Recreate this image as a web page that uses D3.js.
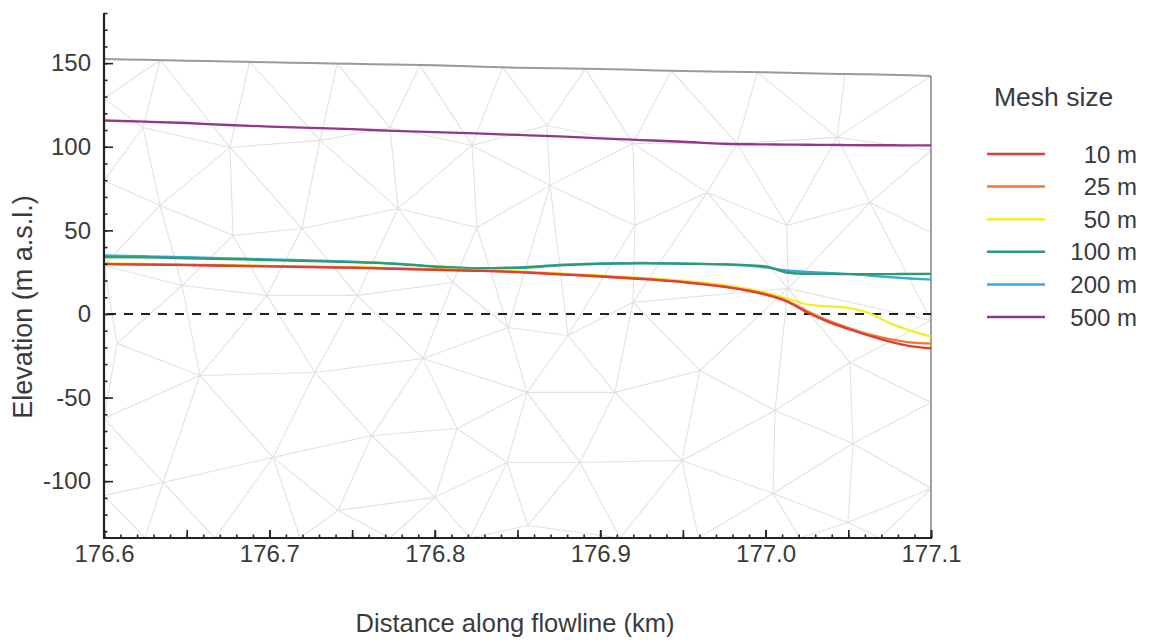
<!DOCTYPE html>
<html><head><meta charset="utf-8">
<script src="https://cdn.jsdelivr.net/npm/d3@7"></script>
<style>
body{margin:0;background:#fff}
svg{display:block}
text{font-family:"Liberation Sans",Arial,Helvetica,sans-serif;fill:#3a3a3a}
</style>
</head><body>
<svg id="chart" width="1152" height="644"></svg>
<script>
// ---------- data ----------
const distanceKm = [176.6,176.625,176.65,176.675,176.7,176.725,176.75,176.775,176.8,176.825,176.85,176.875,176.9,176.925,176.95,176.975,177.0,177.0125,177.025,177.0375,177.05,177.0625,177.075,177.0875,177.1];
const surfaceElev = [152.5,152.0,151.5,151.0,150.5,150.1,149.6,149.2,148.7,148.0,147.3,146.9,146.5,145.9,145.3,144.9,144.5,144.2,144.0,143.7,143.5,143.3,143.0,142.7,142.3];
const mesh10m  = [29.8,29.5,29.2,28.8,28.4,28.0,27.6,27.0,26.4,25.8,25.0,23.7,22.4,20.9,19.0,16.2,11.5,7.6,1.0,-4.6,-9.0,-13.0,-16.5,-19.2,-20.5];
const mesh25m  = [30.0,29.7,29.4,29.0,28.6,28.2,27.8,27.2,26.6,26.0,25.2,23.9,22.6,21.1,19.2,16.5,11.8,8.0,1.8,-3.8,-8.3,-12.2,-15.0,-17.0,-17.8];
const mesh50m  = [30.2,29.9,29.6,29.2,28.8,28.4,28.0,27.4,26.8,26.2,25.5,24.3,23.0,21.6,19.8,17.3,12.8,9.3,5.8,4.6,3.6,0.5,-5.5,-10.0,-13.5];
const mesh100m = [34.0,33.8,33.3,32.8,32.2,31.6,31.0,30.0,28.3,27.3,27.6,29.0,30.0,30.2,30.0,29.7,28.5,24.8,24.0,24.0,23.8,23.8,23.8,24.0,24.0];
const mesh200m = [35.0,34.5,34.0,33.3,32.6,32.0,31.3,30.3,28.5,27.3,27.8,29.3,30.3,30.5,30.2,29.6,27.8,26.0,25.2,24.5,24.0,23.0,22.0,21.2,20.6];
const mesh500m = [115.7,115.0,114.2,113.0,112.1,111.3,110.5,109.5,108.8,108.0,107.1,106.2,105.0,104.0,103.0,101.8,101.4,101.3,101.2,101.1,101.0,100.9,100.9,100.8,100.8];

const seriesNames  = ["10 m","25 m","50 m","100 m","200 m","500 m"];
const seriesValues = [mesh10m, mesh25m, mesh50m, mesh100m, mesh200m, mesh500m];
const seriesColors = ["#dc3f38","#f07a2e","#f4ec2c","#2f9a6c","#37a9dd","#93378a"];
const legendTitle = "Mesh size";

const xTickValues = [176.6,176.7,176.8,176.9,177.0,177.1];
const xTickLabels = ["176.6","176.7","176.8","176.9","177.0","177.1"];
const yTickValues = [-100,-50,0,50,100,150];
const yTickLabels = ["-100","-50","0","50","100","150"];
const xTitle = "Distance along flowline (km)";
const yTitle = "Elevation (m a.s.l.)";

// finite-element mesh nodes [km, elevation]
const meshNodes = [
  [176.6,152.5],[176.634,151.9],[176.688,150.8],[176.741,149.7],[176.791,148.7],[176.841,147.6],
  [176.891,146.6],[176.943,145.6],[176.995,144.5],[177.048,143.4],[177.1,142.3],
  [176.6,128.9],[176.6,79.8],[176.6,29],[176.6,-62.5],[176.6,-108.6],[176.6,-134],
  [177.1,97.8],[177.1,48.7],[177.1,-3.9],[177.1,-52.9],[177.1,-104.4],[177.1,-134],
  [176.6248,-134],[176.6671,-134],[176.7185,-134],[176.7729,-134],[176.8213,-134],
  [176.912,-134],[176.9594,-134],[177.0208,-134],[177.0692,-134],
  [176.6236,111.5],[176.6762,99.6],[176.7306,103.8],[176.7729,111.5],[176.8225,100.8],
  [176.6339,64.9],[176.678,47.0],[176.7197,51.1],[176.7778,63.1],[176.8255,51.7],
  [176.6472,17.0],[176.6985,11.1],[176.753,11.1],[176.811,18.8],
  [176.8678,112.7],[176.9198,102.0],[176.9827,102.0],[177.0432,105.6],
  [176.8697,76.9],[176.921,52.9],[176.9646,72.7],[177.0129,52.9],[177.0631,66.7],
  [176.6079,-17.6],[176.658,-36.8],[176.7276,-35.0],[176.7929,-26.6],[176.8443,-8.1],
  [176.7022,-85.8],[176.762,-72.7],[176.8134,-68.5],[176.6357,-100.8],[176.8437,-88.8],
  [176.7415,-117.5],[176.8001,-109.7],[176.8805,-12.9],[176.9198,6.9],
  [176.8557,-46.9],[176.9089,-46.9],[176.9603,-33.8],[177.0057,-57.7],[177.051,-29.0],
  [176.8878,-88.8],[176.9495,-87.6],[177.0528,-77.5],[177.0045,-107.4],[177.0498,-124.7],
  [176.8563,-126.5],[177.0135,15.3]
];

// ---------- drawing ----------
const svg = d3.select("#chart");
const x = d3.scaleLinear().domain([176.6, 177.1]).range([104, 931]);
const y = d3.scaleLinear().domain([-134, 180]).range([538, 13]);

// mesh background clipped to ice body
const clipPts = distanceKm.map((d,i)=>[x(d), y(surfaceElev[i])])
  .concat([[x(177.1), y(-134)], [x(176.6), y(-134)]]);
svg.append("clipPath").attr("id","iceclip")
  .append("path").attr("d", "M" + clipPts.map(p=>p.join(",")).join("L") + "Z");

const delaunay = d3.Delaunay.from(meshNodes, d=>x(d[0]), d=>y(d[1]));
svg.append("path")
  .attr("d", delaunay.render())
  .attr("clip-path","url(#iceclip)")
  .attr("fill","none").attr("stroke","#e2e2e2").attr("stroke-width",1.1);

// surface line and right boundary
const lineGen = d3.line().x((d,i)=>x(distanceKm[i])).y(d=>y(d)).curve(d3.curveMonotoneX);
svg.append("path").attr("d", lineGen(surfaceElev))
  .attr("fill","none").attr("stroke","#9a9a9a").attr("stroke-width",2);
svg.append("line")
  .attr("x1", x(177.1)).attr("x2", x(177.1))
  .attr("y1", y(surfaceElev[surfaceElev.length-1])).attr("y2", y(-134))
  .attr("stroke","#8c8c8c").attr("stroke-width",1.6);

// zero (sea level) dashed line
svg.append("line")
  .attr("x1", x(176.6)+3).attr("x2", x(177.1))
  .attr("y1", y(0)).attr("y2", y(0))
  .attr("stroke","#222").attr("stroke-width",2).attr("stroke-dasharray","9,8");

// series lines (500 m drawn first, 10 m last)
for (let s = seriesValues.length - 1; s >= 0; s--) {
  svg.append("path").attr("d", lineGen(seriesValues[s]))
    .attr("fill","none").attr("stroke", seriesColors[s])
    .attr("stroke-width", 2.3).attr("stroke-linejoin","round");
}

// axes
function styleAxis(g){
  g.select(".domain").remove();
  g.selectAll(".tick line").attr("stroke","#222").attr("stroke-width",1.6);
  g.selectAll("text").attr("fill","#3a3a3a").style("font-size","24px")
    .style("font-family",'"Liberation Sans",Arial,sans-serif');
}
// y minor
svg.append("g").attr("transform","translate(104,0)")
  .call(d3.axisLeft(y).tickValues(d3.range(-130,181,10)).tickSize(-3.5).tickFormat(""))
  .call(styleAxis);
// y major
svg.append("g").attr("transform","translate(104,0)")
  .call(d3.axisLeft(y).tickValues(yTickValues).tickSize(-9).tickPadding(13)
        .tickFormat((d,i)=>yTickLabels[i]))
  .call(styleAxis);
// x minor
svg.append("g").attr("transform","translate(0,538)")
  .call(d3.axisBottom(x).tickValues(d3.range(0,51).map(i=>176.6+i*0.01)).tickSize(-3.5).tickFormat(""))
  .call(styleAxis);
// x medium
svg.append("g").attr("transform","translate(0,538)")
  .call(d3.axisBottom(x).tickValues(d3.range(0,11).map(i=>176.6+i*0.05)).tickSize(-8).tickFormat(""))
  .call(styleAxis);
// x labelled
svg.append("g").attr("transform","translate(0,538)")
  .call(d3.axisBottom(x).tickValues(xTickValues).tickSize(-8).tickPadding(7)
        .tickFormat((d,i)=>xTickLabels[i]))
  .call(styleAxis);

// axis lines
svg.append("line").attr("x1",104).attr("x2",104).attr("y1",y(180)).attr("y2",y(-134)+1)
  .attr("stroke","#222").attr("stroke-width",2.2);
svg.append("line").attr("x1",103).attr("x2",x(177.1)+1).attr("y1",y(-134)).attr("y2",y(-134))
  .attr("stroke","#222").attr("stroke-width",2.2);

// axis titles
svg.append("text").attr("x", 515).attr("y", 632).attr("text-anchor","middle")
  .style("font-size","25.5px").text(xTitle);
svg.append("text").attr("transform","translate(32,307) rotate(-90)").attr("text-anchor","middle")
  .style("font-size","27px").text(yTitle);

// legend
svg.append("text").attr("x", 994).attr("y", 106).style("font-size","26.5px").text(legendTitle);
const leg = svg.append("g");
seriesNames.forEach((n,i)=>{
  const yy = 154 + i*32.6;
  leg.append("line").attr("x1",987).attr("x2",1045).attr("y1",yy).attr("y2",yy)
    .attr("stroke", seriesColors[i]).attr("stroke-width",2.5);
  leg.append("text").attr("x",1137).attr("y",yy+8.5).attr("text-anchor","end")
    .style("font-size","24px").text(n);
});
</script>
</body></html>
